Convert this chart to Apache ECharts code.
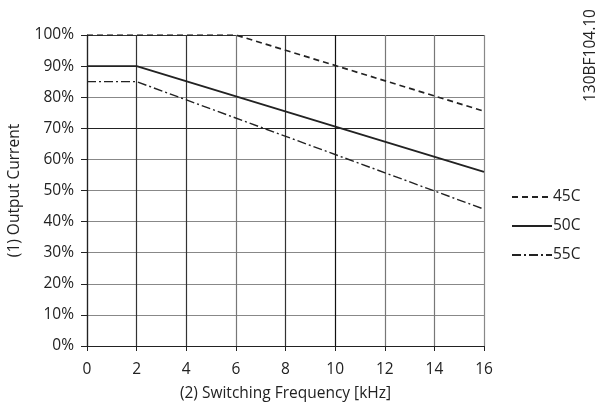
<!DOCTYPE html>
<html><head><meta charset="utf-8">
<script src="https://cdn.jsdelivr.net/npm/echarts@6/dist/echarts.min.js"></script>
<style>html,body{margin:0;padding:0;background:#fff}#c{width:600px;height:403px}</style>
</head><body><div id="c"></div>
<script>
const seriesNames = ['45C', '50C', '55C'];
const s45 = [[0, 100], [6, 100], [16, 75.5]];
const s50 = [[0, 90], [2, 90], [16, 56]];
const s55 = [[0, 85], [2, 85], [16, 44]];
const xTicks = [0, 2, 4, 6, 8, 10, 12, 14, 16];
const yTicks = [0, 10, 20, 30, 40, 50, 60, 70, 80, 90, 100];
const docId = '130BF104.10';

const font = 'Open Sans';
const fs = 15.5;
const chart = echarts.init(document.getElementById('c'), null, {renderer: 'canvas'});
const styles = [
  {type: [6, 4], width: 1.7},
  {type: 'solid', width: 1.9},
  {type: [9, 3, 2, 3], width: 1.4}
];
chart.setOption({
  animation: false,
  grid: {left: 87, right: 116, top: 35, bottom: 57, containLabel: false, outerBoundsMode: 'none'},
  xAxis: {
    type: 'value', min: 0, max: 16, interval: 2,
    name: '(2) Switching Frequency [kHz]', nameLocation: 'middle', nameGap: 40,
    nameTextStyle: {fontFamily: font, fontSize: fs, color: '#222'},
    axisLine: {lineStyle: {color: '#222', width: 1.2}},
    axisTick: {show: true, length: 5, lineStyle: {color: '#222'}},
    axisLabel: {fontFamily: font, fontSize: fs, color: '#222', margin: 16, formatter: v => xTicks.includes(v) ? String(v) : ''},
    splitLine: {show: true, lineStyle: {color: ['#333', '#333', '#333', '#777', '#333', '#111', '#777', '#777', '#888'], width: 1.2}}
  },
  yAxis: {
    type: 'value', min: 0, max: 100, interval: 10,
    name: '(1) Output Current', nameLocation: 'middle', nameGap: 64,
    nameTextStyle: {fontFamily: font, fontSize: fs, color: '#222'},
    axisLine: {show: true, lineStyle: {color: '#222', width: 1.2}},
    axisTick: {show: true, length: 6, lineStyle: {color: '#222'}},
    axisLabel: {fontFamily: font, fontSize: fs, color: '#222', margin: 13, formatter: v => yTicks.includes(v) ? v + '%' : ''},
    splitLine: {show: true, lineStyle: {color: ['#222', '#888', '#888', '#888', '#888', '#888', '#888', '#222', '#888', '#888', '#333'], width: 1.2}}
  },
  legend: {
    orient: 'vertical', left: 506, top: 184, itemWidth: 40, itemHeight: 16, itemGap: 13,
    itemStyle: {opacity: 0},
    textStyle: {fontFamily: font, fontSize: fs, color: '#222', padding: [0, 0, 0, -4]},
    data: seriesNames
  },
  series: [s45, s50, s55].map((d, i) => ({
    name: seriesNames[i], type: 'line', data: d, symbol: 'none',
    lineStyle: {color: '#222', type: styles[i].type, width: styles[i].width},
    itemStyle: {color: '#222'}
  })),
  graphic: [{
    type: 'text', x: 583, y: 102, rotation: Math.PI / 2,
    style: {text: docId, fontFamily: font, fontSize: fs, fill: '#222'}
  }]
});
</script></body></html>
